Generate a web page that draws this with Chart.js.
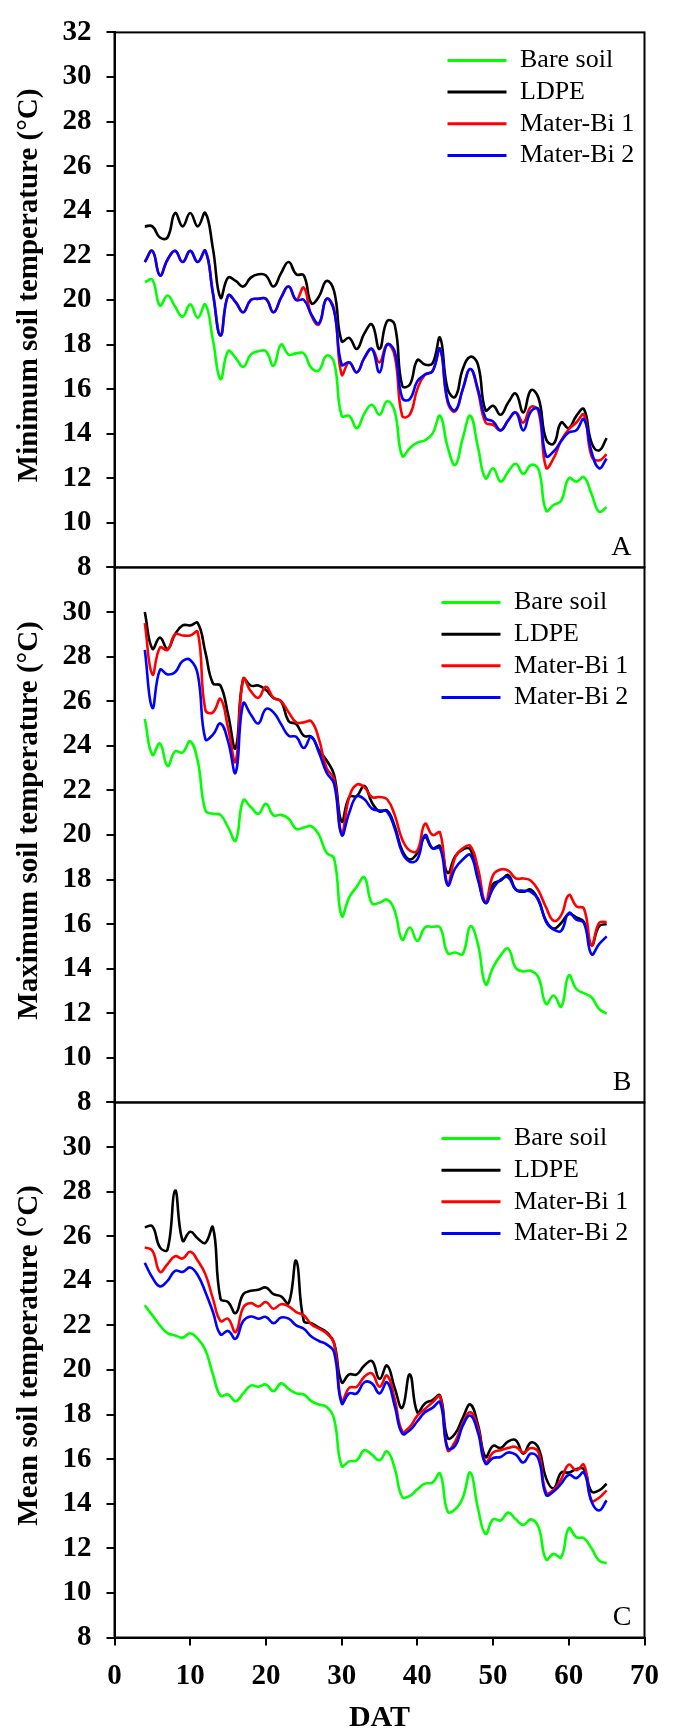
<!DOCTYPE html>
<html>
<head>
<meta charset="utf-8">
<title>Soil temperature</title>
<script src="https://cdn.jsdelivr.net/npm/chart.js@4.4.1/dist/chart.umd.min.js"></script>
<style>
  html, body { margin: 0; padding: 0; background: #fff; }
  #wrap { position: relative; width: 673px; height: 1733px; }
</style>
</head>
<body>
<div id="wrap"><canvas id="soilChart" width="673" height="1733"></canvas></div>
<script>
// Días después del trasplante (DAT)
const dat = [4, 5, 6, 7, 8, 9, 10, 11, 12, 13, 14, 15, 16, 17, 18, 19, 20, 21, 22, 23,
  24, 25, 26, 27, 28, 29, 30, 31, 32, 33, 34, 35, 36, 37, 38, 39, 40, 41, 42, 43,
  44, 45, 46, 47, 48, 49, 50, 51, 52, 53, 54, 55, 56, 57, 58, 59, 60, 61, 62, 63, 64, 65];

// A - temperatura mínima
const bareMin = [20.8, 20.9, 19.75, 20.2, 19.7, 19.25, 19.8, 19.2, 19.8, 18.2,
  16.45, 17.7, 17.4, 17.0, 17.55, 17.7, 17.7, 17.05, 18.0, 17.55,
  17.6, 17.6, 16.95, 16.85, 17.5, 17.2, 14.8, 14.8, 14.25, 14.9,
  15.3, 14.85, 15.45, 15.0, 13.0, 13.35, 13.6, 13.7, 14.0, 14.8,
  13.4, 12.6, 13.8, 14.8, 13.4, 12.0, 12.45, 11.85, 12.3, 12.65,
  12.2, 12.6, 12.4, 10.55, 10.8, 11.0, 12.0, 11.85, 12.05, 11.3, 10.5, 10.7];
const ldpeMin = [23.3, 23.3, 22.8, 22.8, 23.9, 23.3, 23.9, 23.3, 23.9, 22.3,
  20.1, 21.0, 20.85, 20.6, 21.0, 21.15, 21.1, 20.6, 21.2, 21.7,
  21.15, 21.1, 19.85, 20.15, 20.85, 20.4, 18.15, 18.3, 17.8, 18.5,
  18.9, 17.8, 19.05, 18.9, 16.15, 16.2, 17.3, 17.1, 17.15, 18.3,
  16.0, 15.65, 16.9, 17.45, 17.1, 15.05, 15.25, 14.85, 15.4, 15.8,
  14.95, 15.95, 15.6, 13.75, 13.55, 14.5, 14.25, 14.8, 15.1, 13.6, 13.25, 13.8];
const mb1Min = [21.7, 22.2, 21.1, 21.8, 22.2, 21.7, 22.2, 21.7, 22.2, 20.3,
  18.4, 20.2, 19.9, 19.45, 20.0, 20.05, 20.05, 19.45, 20.1, 20.6,
  20.0, 20.55, 19.3, 18.9, 20.05, 19.6, 16.65, 17.2, 16.75, 17.4,
  17.8, 17.2, 18.0, 17.5, 14.8, 14.85, 16.0, 16.65, 16.8, 17.8,
  15.4, 15.0, 16.0, 16.9, 15.9, 14.5, 14.4, 14.15, 14.6, 14.95,
  14.5, 15.2, 15.0, 12.48, 12.9, 13.7, 14.2, 14.5, 14.85, 13.0, 12.8, 13.08];
const mb2Min = [21.7, 22.2, 21.1, 21.8, 22.2, 21.7, 22.2, 21.7, 22.2, 20.3,
  18.4, 20.2, 19.9, 19.45, 20.0, 20.05, 20.05, 19.45, 20.1, 20.6,
  20.0, 20.0, 19.35, 18.95, 20.05, 19.5, 17.1, 17.2, 16.75, 17.4,
  17.8, 16.75, 18.0, 17.7, 15.6, 15.55, 16.35, 16.65, 16.8, 17.8,
  15.5, 15.05, 16.0, 16.9, 16.0, 14.7, 14.55, 14.15, 14.6, 14.95,
  14.15, 15.0, 15.1, 13.0, 13.2, 13.67, 14.05, 14.15, 14.65, 13.2, 12.45, 12.88];

// B - temperatura máxima
const bareMax = [25.2, 23.6, 24.1, 23.1, 23.75, 23.7, 24.2, 23.3, 21.1, 20.95,
  20.9, 20.35, 19.75, 21.55, 21.25, 20.95, 21.4, 20.88, 20.9, 20.73,
  20.27, 20.33, 20.39, 20.0, 19.2, 18.95, 16.37, 17.2, 17.68, 18.1,
  16.93, 16.96, 17.1, 16.6, 15.3, 15.85, 15.25, 15.85, 15.88, 15.85,
  14.7, 14.73, 14.66, 15.9, 15.1, 13.3, 14.06, 14.6, 14.9, 14.03,
  13.88, 13.91, 13.6, 12.42, 12.8, 12.3, 13.7, 13.09, 12.9, 12.72, 12.2, 11.98];
const ldpeMax = [30.0, 28.35, 28.85, 28.35, 29.0, 29.4, 29.4, 29.5, 28.2, 26.8,
  26.7, 25.4, 23.9, 27.0, 26.7, 26.7, 26.5, 26.15, 26.0, 25.1,
  24.97, 24.45, 24.4, 23.8, 23.35, 22.7, 20.6, 21.7, 21.75, 22.2,
  21.45, 21.05, 21.1, 20.4, 19.3, 18.9, 19.2, 19.9, 19.4, 19.5,
  18.3, 19.05, 19.35, 19.35, 18.1, 16.95, 17.8, 17.95, 18.2, 17.55,
  17.45, 17.55, 17.05, 16.15, 15.8, 16.05, 16.45, 16.3, 16.1, 15.05, 15.9, 16.0];
const mb1Max = [29.5, 27.2, 28.4, 28.3, 29.0, 28.95, 28.95, 29.1, 25.6, 25.5,
  26.1, 24.8, 23.3, 27.0, 26.45, 26.15, 26.65, 26.15, 26.0, 25.5,
  25.05, 25.05, 25.1, 24.3, 23.0, 22.5, 20.1, 21.7, 22.26, 22.14,
  21.7, 21.7, 21.6, 20.9, 19.8, 19.3, 19.3, 20.5, 20.0, 20.1,
  17.8, 19.0, 19.4, 19.5, 18.5, 17.0, 18.2, 18.45, 18.4, 18.05,
  18.05, 17.95, 17.5, 16.75, 16.15, 16.4, 17.3, 16.8, 16.7, 15.05, 16.05, 16.1];
const mb2Max = [28.3, 25.7, 27.4, 27.2, 27.3, 27.8, 27.85, 27.2, 24.3, 24.5,
  25.0, 24.2, 22.8, 25.9, 25.4, 25.0, 25.65, 25.5, 24.97, 24.45,
  24.4, 23.9, 24.4, 23.7, 22.8, 22.3, 20.0, 21.0, 21.73, 21.6,
  21.18, 21.1, 21.05, 20.3, 19.2, 18.8, 18.9, 20.0, 19.4, 19.4,
  17.75, 18.5, 18.9, 19.1, 18.0, 16.95, 17.6, 18.0, 18.1, 17.55,
  17.5, 17.45, 17.1, 16.1, 15.75, 15.7, 16.5, 16.2, 16.05, 14.65, 15.1, 15.45];

// C - temperatura media
const bareMean = [22.9, 22.45, 22.0, 21.65, 21.55, 21.45, 21.65, 21.4, 20.9, 19.8,
  18.85, 18.9, 18.6, 18.95, 19.3, 19.25, 19.35, 19.05, 19.4, 19.15,
  18.95, 18.9, 18.6, 18.45, 18.35, 17.8, 15.7, 15.9, 15.95, 16.4,
  16.2, 15.95, 16.35, 15.6, 14.3, 14.35, 14.65, 14.9, 14.95, 15.35,
  13.65, 13.75, 14.27, 15.4, 13.8, 12.65, 13.3, 13.25, 13.6, 13.3,
  13.05, 13.3, 12.95, 11.5, 11.75, 11.6, 12.9, 12.5, 12.45, 12.0, 11.45, 11.33];
const ldpeMean = [26.4, 26.45, 25.5, 25.4, 28.05, 25.8, 26.2, 25.9, 25.7, 26.4,
  23.2, 23.05, 22.55, 23.4, 23.55, 23.6, 23.7, 23.4, 23.3, 23.0,
  24.9, 22.2, 22.1, 21.9, 21.7, 21.2, 19.45, 19.8, 19.8, 20.2,
  20.4, 19.6, 20.2, 19.2, 18.3, 19.8, 18.1, 18.5, 18.65, 18.85,
  16.95, 17.15, 17.85, 18.45, 17.55, 16.1, 16.6, 16.5, 16.8, 16.85,
  16.25, 16.75, 16.5, 15.15, 14.7, 15.4, 15.4, 15.55, 15.55, 14.55, 14.6, 14.9];
const mb1Mean = [25.5, 25.35, 24.4, 24.75, 25.1, 25.0, 25.3, 24.9, 24.3, 23.2,
  22.2, 22.3, 21.7, 22.8, 23.0, 22.85, 23.05, 22.75, 22.95, 22.85,
  22.6, 22.45, 22.05, 21.85, 21.65, 21.2, 18.6, 19.2, 19.25, 19.7,
  19.85, 19.25, 19.75, 18.7, 17.25, 17.45, 17.95, 18.25, 18.55, 18.8,
  16.4, 16.8, 17.6, 18.1, 17.4, 15.85, 16.3, 16.4, 16.5, 16.55,
  16.3, 16.5, 16.3, 14.5, 14.63, 15.1, 15.75, 15.5, 15.75, 14.15, 14.27, 14.6];
const mb2Mean = [24.8, 24.15, 23.75, 24.0, 24.45, 24.4, 24.6, 24.25, 23.5, 22.6,
  21.6, 21.75, 21.4, 22.2, 22.4, 22.3, 22.38, 22.1, 22.35, 22.3,
  22.0, 21.85, 21.5, 21.3, 21.15, 20.8, 18.5, 18.95, 18.95, 19.45,
  19.4, 18.95, 19.45, 18.4, 17.15, 17.3, 17.7, 18.1, 18.3, 18.55,
  16.5, 16.6, 17.5, 17.95, 17.2, 15.8, 16.05, 16.1, 16.3, 16.2,
  15.85, 16.25, 16.0, 14.4, 14.55, 14.9, 15.3, 15.15, 15.4, 14.1, 13.7, 14.15];

const seriesNames = ['Bare soil', 'LDPE', 'Mater-Bi 1', 'Mater-Bi 2'];
const seriesColors = ['#00ff00', '#000000', '#ff0000', '#0000ff'];
const panelIds = ['yA', 'yB', 'yC'];
const panelTitles = ['Minimum soil temperature (°C)', 'Maximum soil temperature (°C)', 'Mean soil temperature (°C)'];
const panelLetters = ['A', 'B', 'C'];
const panelData = [
  [bareMin, ldpeMin, mb1Min, mb2Min],
  [bareMax, ldpeMax, mb1Max, mb2Max],
  [bareMean, ldpeMean, mb1Mean, mb2Mean]
];

// Posición de las leyendas dentro de cada panel (px desde arriba / desde la derecha)
const legendTop = [28, 35, 36];
const legendRight = [197, 203, 203];
const legendStep = 31.7;

const serif = "'Liberation Serif', 'Times New Roman', serif";

const datasets = [];
panelData.forEach((series, p) => {
  series.forEach((values, s) => {
    datasets.push({
      label: seriesNames[s],
      data: dat.map((d, i) => ({ x: d, y: values[i] })),
      yAxisID: panelIds[p],
      borderColor: seriesColors[s],
      borderWidth: 2.6,
      pointRadius: 0,
      tension: 0.45,
      fill: false,
      order: 3 - s
    });
  });
});

function yAxis(p) {
  return {
    type: 'linear',
    position: 'left',
    stack: 'soil',
    stackWeight: 1,
    weight: 3 - p,
    min: 8,
    max: 32,
    ticks: {
      stepSize: 2,
      autoSkip: false,
      color: '#000',
      padding: 15,
      font: { family: serif, size: 29, weight: 'bold' },
      // el 32 de los paneles B y C coincide con el 8 del panel de arriba
      callback: function(value) {
        return (p > 0 && value === 32) ? '' : value;
      }
    },
    grid: { drawOnChartArea: false, drawTicks: true, tickLength: 8, color: '#000', lineWidth: 2 },
    border: { display: true, color: '#000', width: 2 },
    title: { display: false },
    afterFit: function(scale) { scale.width = 114.5; }
  };
}

// Marco, título, leyenda y letra de cada panel
const panelDecor = {
  id: 'panelDecor',
  afterDraw(chart) {
    const { ctx, chartArea } = chart;
    panelIds.forEach((id, p) => {
      const sc = chart.scales[id];
      ctx.save();
      ctx.strokeStyle = '#000';
      ctx.lineWidth = 2;
      ctx.strokeRect(chartArea.left, sc.top, chartArea.right - chartArea.left, sc.bottom - sc.top);

      // título del eje y (un poco por encima del centro, como en el original)
      ctx.save();
      ctx.translate(30, (sc.top + sc.bottom) / 2 - 14.5);
      ctx.rotate(-Math.PI / 2);
      ctx.font = 'bold 29px ' + serif;
      ctx.fillStyle = '#000';
      ctx.textAlign = 'center';
      ctx.textBaseline = 'middle';
      ctx.fillText(panelTitles[p], 0, 0);
      ctx.restore();

      const x0 = chartArea.right - legendRight[p];
      ctx.font = '26px ' + serif;
      ctx.textBaseline = 'middle';
      ctx.textAlign = 'left';
      seriesNames.forEach((name, s) => {
        const y = sc.top + legendTop[p] + s * legendStep;
        ctx.strokeStyle = seriesColors[s];
        ctx.lineWidth = 3;
        ctx.beginPath();
        ctx.moveTo(x0, y);
        ctx.lineTo(x0 + 59, y);
        ctx.stroke();
        ctx.fillStyle = '#000';
        ctx.fillText(name, x0 + 72.5, y);
      });

      ctx.font = '28px ' + serif;
      ctx.fillStyle = '#000';
      ctx.textAlign = 'right';
      ctx.textBaseline = 'alphabetic';
      ctx.fillText(panelLetters[p], chartArea.right - 13, sc.bottom - 12.5);
      ctx.restore();
    });
  }
};

new Chart(document.getElementById('soilChart'), {
  type: 'line',
  data: { datasets: datasets },
  options: {
    responsive: false,
    animation: false,
    devicePixelRatio: 1,
    layout: { padding: { top: 24, right: 18, left: 0, bottom: 0 } },
    plugins: {
      legend: { display: false },
      tooltip: { enabled: false }
    },
    scales: {
      x: {
        type: 'linear',
        min: 0,
        max: 70,
        ticks: {
          stepSize: 10,
          autoSkip: false,
          color: '#000',
          padding: 14,
          maxRotation: 0,
          font: { family: serif, size: 29, weight: 'bold' }
        },
        grid: { drawOnChartArea: false, drawTicks: true, tickLength: 8, color: '#000', lineWidth: 2 },
        border: { display: true, color: '#000', width: 2 },
        title: {
          display: true,
          text: 'DAT',
          color: '#000',
          font: { family: serif, size: 30, weight: 'bold', lineHeight: 1 },
          padding: { top: 0, bottom: 0 }
        },
        afterFit: function(scale) { scale.height = 95.5; }
      },
      yA: yAxis(0),
      yB: yAxis(1),
      yC: yAxis(2)
    }
  },
  plugins: [panelDecor]
});
</script>
</body>
</html>
